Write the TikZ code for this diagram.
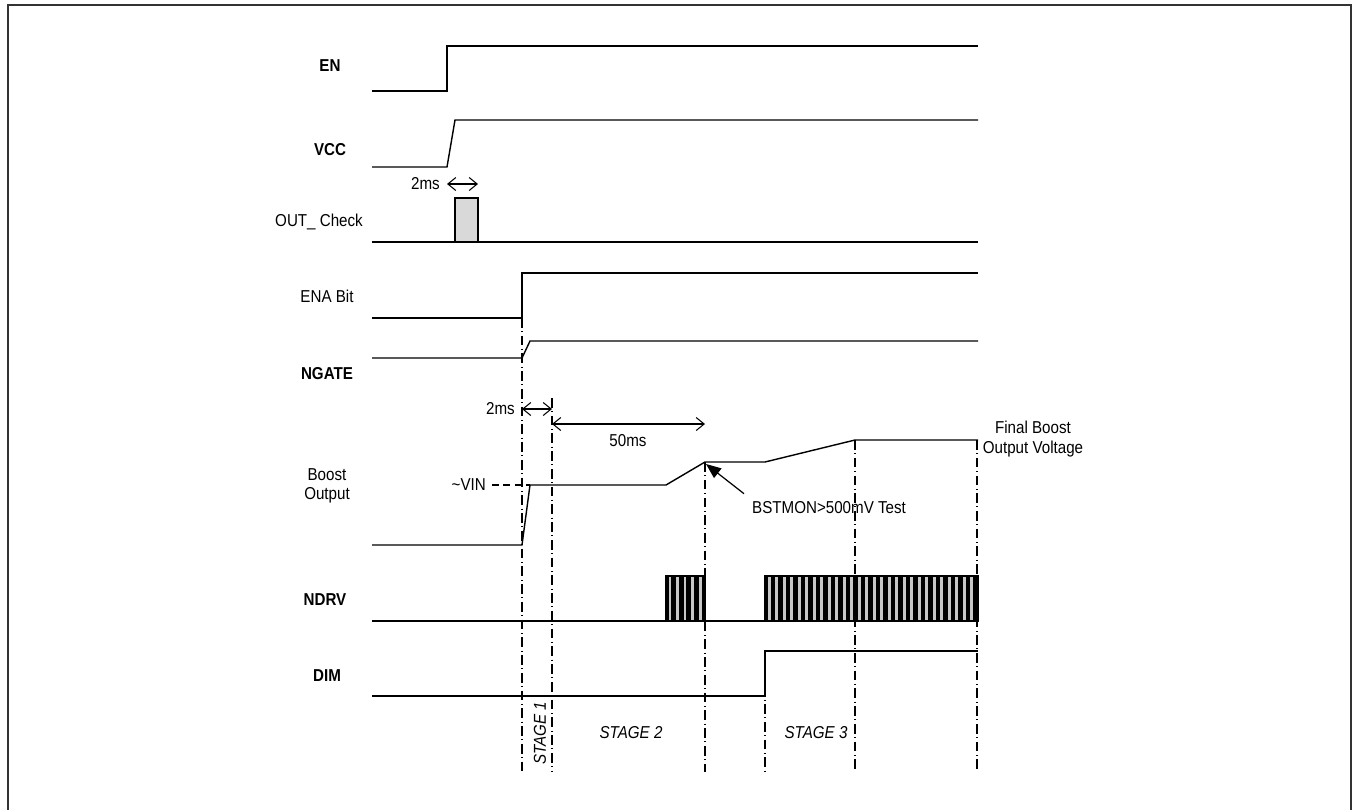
\documentclass[tikz,border=0pt]{standalone}
\usepackage{fontspec}
\setmainfont{Liberation Sans}[FakeStretch=0.88]
\usetikzlibrary{arrows.meta}
\tikzset{
  sigline/.style={line width=0.8pt},
  guide/.style={line width=0.6pt,dash pattern=on 5.5pt off 2pt on 0.6pt off 2pt},
  sigLabel/.style={font=\fontsize{9.8}{11}\selectfont\bfseries},
  noteLabel/.style={font=\fontsize{9.8}{11}\selectfont,align=center},
  stageLabel/.style={font=\fontsize{9.8}{11}\selectfont\itshape},
  spanArrow/.style={{Straight Barb[length=1.6mm,width=2.6mm]}-{Straight Barb[length=1.6mm,width=2.6mm]},line width=0.6pt},
  pointArrow/.style={-{Triangle[length=3mm,width=2.4mm]},line width=0.7pt},
  hatchbox/.style={draw,fill=black,line width=0.6pt},
  stripe/.style={draw=black!22,line width=1.7pt}
}

\begin{document}
\begin{tikzpicture}[x=0.02cm,y=-0.02cm]
  \useasboundingbox (0,0) rectangle (1353,809);
  % frame, open at the bottom
  \draw[line width=1.1pt,black!80] (8,815) -- (8,5) -- (1351,5) -- (1351,815);

  % signal names
  \node[sigLabel] (en) at (330,66) {EN};
  \node[sigLabel] (vcc) at (330,150) {VCC};
  \node[noteLabel] (chk) at (319,222) {OUT\_ Check};
  \node[noteLabel] (ena) at (327,296) {ENA Bit};
  \node[sigLabel] (ngate) at (327,374) {NGATE};
  \node[noteLabel] (bst) at (327,486) {Boost\\Output};
  \node[sigLabel] (ndrv) at (325,600) {NDRV};
  \node[sigLabel] (dim) at (327,676) {DIM};

  % guide lines
  \draw[guide] (522,318) -- (522,772);
  \draw[guide] (552,398) -- (552,772);
  \draw[guide] (705,462) -- (705,772);
  \draw[guide] (855,440) -- (855,772);
  \draw[guide] (977,440) -- (977,772);
  \draw[guide] (765,651) -- (765,772);

  % EN, VCC
  \draw[sigline] (372,91) -- (447,91) -- (447,46) -- (978,46);
  \draw[sigline] (372,167) -- (447,167) -- (455,120) -- (978,120);

  % OUT_ Check
  \draw[sigline] (372,242) -- (978,242);
  \draw[line width=0.7pt,fill=black!15] (455,242) rectangle (478,198);
  \node[noteLabel,anchor=east] (t1) at (446,184) {2ms};
  \draw[spanArrow] (447,184) -- (478,184);

  % ENA Bit, NGATE
  \draw[sigline] (372,318) -- (522,318) -- (522,273) -- (978,273);
  \draw[sigline] (372,358) -- (522,358) -- (530,341) -- (978,341);

  % timing spans
  \node[noteLabel,anchor=east] (t2) at (521,409) {2ms};
  \draw[spanArrow] (522,409) -- (552,409);
  \draw[spanArrow] (552,424) -- (705,424);
  \node[noteLabel] (t3) at (628,441) {50ms};

  % Boost Output
  \draw[sigline] (372,545) -- (522,545) -- (530,485) -- (666,485) -- (705,462)
    -- (765,462) -- (855,440) -- (978,440);
  \node[noteLabel,anchor=east] (vin) at (492,485) {\textasciitilde VIN};
  \draw[line width=0.6pt,dash pattern=on 4pt off 2.5pt] (vin.east) -- (530,485);
  \node[noteLabel] (fin) at (1033,439) {Final Boost\\Output Voltage};
  \node[noteLabel,anchor=west] (mon) at (746,508) {BSTMON>500mV Test};
  \coordinate (kink) at (706,464);
  \draw[pointArrow] (mon.north west) ++(-2,-2) -- (kink);

  % NDRV
  \draw[sigline] (372,621) -- (978,621);
  \draw[hatchbox] (666,576) rectangle (705,621);
  \foreach \k in {0,...,4}
    \draw[stripe] ({670+7.5*\k},577) -- ++(0,43);
  \draw[hatchbox] (765,576) rectangle (978,621);
  \foreach \k in {0,...,27}
    \draw[stripe] ({769+7.5*\k},577) -- ++(0,43);

  % DIM
  \draw[sigline] (372,696) -- (765,696) -- (765,651) -- (978,651);

  % stages
  \node[stageLabel,rotate=90] (s1) at (540,733) {STAGE 1};
  \node[stageLabel] (s2) at (631,733) {STAGE 2};
  \node[stageLabel] (s3) at (816,733) {STAGE 3};
\end{tikzpicture}
\end{document}
